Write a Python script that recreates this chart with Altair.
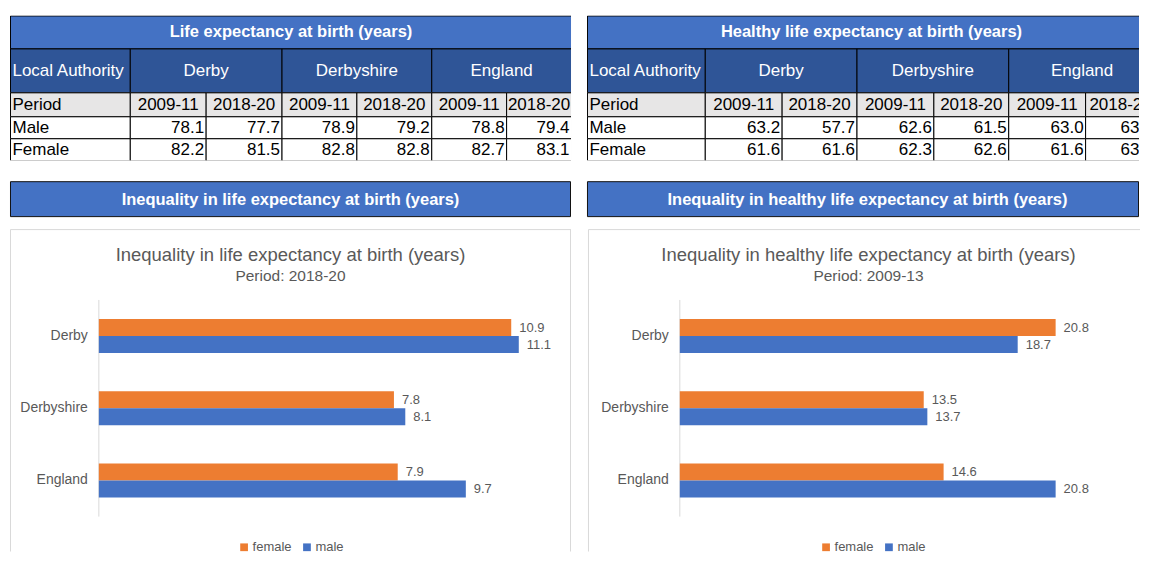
import altair as alt
import pandas as pd

# ---------------- data ----------------
areas = ["Derby", "Derbyshire", "England"]
periods = ["2009-11", "2018-20"]
row_labels = ["Male", "Female"]

le_male = [78.1, 77.7, 78.9, 79.2, 78.8, 79.4]
le_female = [82.2, 81.5, 82.8, 82.8, 82.7, 83.1]
hle_male = [63.2, 57.7, 62.6, 61.5, 63.0, 63.1]
hle_female = [61.6, 61.6, 62.3, 62.6, 61.6, 63.9]

ineq_le_female = [10.9, 7.8, 7.9]
ineq_le_male = [11.1, 8.1, 9.7]
ineq_hle_female = [20.8, 13.5, 14.6]
ineq_hle_male = [18.7, 13.7, 20.8]

table_titles = ["Life expectancy at birth (years)",
                "Healthy life expectancy at birth (years)"]
section_titles = ["Inequality in life expectancy at birth (years)",
                  "Inequality in healthy life expectancy at birth (years)"]
chart_periods = ["Period: 2018-20", "Period: 2009-13"]
sexes = ["female", "male"]

# ---------------- style ----------------
FONT = "Liberation Sans"
LIGHT_BLUE = "#4472C4"
DARK_BLUE = "#2F5597"
GREY_ROW = "#E7E6E6"
ORANGE = "#ED7D31"
TEXT_GREY = "#595959"
BOX_GREY = "#D9D9D9"

ROW_H = [33, 44, 24, 22, 22]
TABLE_H = sum(ROW_H)
HEADER_H = 36
CHART_H = 323


def table(title, male, female, col_w, width):
    xs = [0]
    for w in col_w:
        xs.append(xs[-1] + w)
    ys = [0]
    for h in ROW_H:
        ys.append(ys[-1] + h)
    cells = []

    def add(c0, c1, r, fill, text, align, color, weight="normal"):
        cells.append(dict(x0=xs[c0], x1=min(xs[c1], width), y0=ys[r], y1=ys[r + 1],
                          xr=xs[c1],
                          xc=(xs[c0] + xs[c1]) / 2, yc=(ys[r] + ys[r + 1]) / 2,
                          fill=fill, text=text, align=align, color=color,
                          weight=weight))

    add(0, 7, 0, LIGHT_BLUE, title, "center", "white", "bold")
    add(0, 1, 1, DARK_BLUE, "Local Authority", "left", "white")
    for i, a in enumerate(areas):
        add(1 + 2 * i, 3 + 2 * i, 1, DARK_BLUE, a, "center", "white")
    add(0, 1, 2, GREY_ROW, "Period", "left", "black")
    for j in range(6):
        add(1 + j, 2 + j, 2, GREY_ROW, periods[j % 2], "center", "black")
    for r, (lab, vals) in enumerate(zip(row_labels, [male, female])):
        add(0, 1, 3 + r, "white", lab, "left", "black")
        for j, v in enumerate(vals):
            add(1 + j, 2 + j, 3 + r, "white", f"{v:.1f}", "right", "black")
    df = pd.DataFrame(cells)

    X = alt.Scale(domain=[0, width], range=[0.5, width + 0.5])
    Y = alt.Scale(domain=[0, TABLE_H], range=[0.5, TABLE_H + 0.5])
    base = alt.Chart(df)
    rects = base.mark_rect(stroke="black", strokeWidth=1, clip=True).encode(
        x=alt.X("x0:Q", scale=X, axis=None), x2="x1:Q",
        y=alt.Y("y0:Q", scale=Y, axis=None), y2="y1:Q",
        fill=alt.Fill("fill:N", scale=None))
    left = base.transform_filter("datum.align == 'left'").mark_text(
        align="left", baseline="middle", dx=2, font=FONT, fontSize=17, clip=True
    ).encode(x=alt.X("x0:Q", scale=X, axis=None),
             y=alt.Y("yc:Q", scale=Y, axis=None),
             text="text:N", color=alt.Color("color:N", scale=None))
    center = base.transform_filter(
        "datum.align == 'center' && datum.weight == 'normal'").mark_text(
        align="center", baseline="middle", font=FONT, fontSize=17, clip=True
    ).encode(x=alt.X("xc:Q", scale=X, axis=None),
             y=alt.Y("yc:Q", scale=Y, axis=None),
             text="text:N", color=alt.Color("color:N", scale=None))
    bold = base.transform_filter("datum.weight == 'bold'").mark_text(
        align="center", baseline="middle", font=FONT, fontSize=16.5,
        fontWeight="bold", clip=True
    ).encode(x=alt.X("xc:Q", scale=X, axis=None),
             y=alt.Y("yc:Q", scale=Y, axis=None),
             text="text:N", color=alt.Color("color:N", scale=None))
    right = base.transform_filter("datum.align == 'right'").mark_text(
        align="right", baseline="middle", dx=-2, font=FONT, fontSize=17, clip=True
    ).encode(x=alt.X("xr:Q", scale=X, axis=None),
             y=alt.Y("yc:Q", scale=Y, axis=None),
             text="text:N", color=alt.Color("color:N", scale=None))
    return alt.layer(rects, left, center, bold, right).properties(
        width=width, height=TABLE_H)


def header(title, width):
    df = pd.DataFrame({"t": [title]})
    bar = alt.Chart(df).mark_rect(fill=LIGHT_BLUE, stroke="#111111",
                                  strokeWidth=1).encode(
        x=alt.value(0.5), x2=alt.value(width - 0.5),
        y=alt.value(0.5), y2=alt.value(HEADER_H - 0.5))
    txt = alt.Chart(df).mark_text(font=FONT, fontSize=16.5, fontWeight="bold",
                                  color="white", align="center",
                                  baseline="middle").encode(
        x=alt.value(281), y=alt.value(HEADER_H / 2 + 1), text="t:N")
    return alt.layer(bar, txt).properties(width=width, height=HEADER_H)


def bar_panel(title, subtitle, female, male, width, zero_px, px_per, xmax,
              legend_x, right_border):
    df = pd.DataFrame({"area": areas * 2,
                       "sex": [sexes[0]] * 3 + [sexes[1]] * 3,
                       "value": female + male})
    X = alt.Scale(domain=[0, xmax], range=[zero_px, zero_px + xmax * px_per])
    Y = alt.Scale(domain=areas, range=[71, 288], paddingInner=0.53,
                  paddingOuter=0.265)
    yoff = alt.YOffset("sex:N", sort=sexes,
                       scale=alt.Scale(paddingInner=0, paddingOuter=0))
    base = alt.Chart(df)
    bars = base.mark_bar().encode(
        x=alt.X("value:Q", scale=X, axis=None),
        y=alt.Y("area:N", scale=Y, axis=None, sort=areas),
        yOffset=yoff,
        color=alt.Color("sex:N",
                        scale=alt.Scale(domain=sexes, range=[ORANGE, LIGHT_BLUE]),
                        legend=alt.Legend(orient="none", legendX=legend_x,
                                          legendY=312, direction="horizontal",
                                          title=None, symbolType="square",
                                          symbolSize=60, symbolStrokeWidth=0,
                                          labelFontSize=13, labelFont=FONT,
                                          labelColor=TEXT_GREY, labelOffset=2,
                                          columnPadding=8)))
    vals = base.mark_text(align="left", baseline="middle", dx=8, font=FONT,
                          fontSize=13, color=TEXT_GREY).encode(
        x=alt.X("value:Q", scale=X, axis=None),
        y=alt.Y("area:N", scale=Y, axis=None, sort=areas),
        yOffset=yoff,
        text=alt.Text("value:Q", format=".1f"))
    cats = alt.Chart(pd.DataFrame({"area": areas})).mark_text(
        align="right", baseline="middle", dx=-11, font=FONT, fontSize=14,
        color=TEXT_GREY).encode(
        x=alt.X(datum=0, scale=X, axis=None),
        y=alt.Y("area:N", scale=Y, axis=None, sort=areas),
        text="area:N")
    axis_line = alt.Chart(pd.DataFrame({"v": [0]})).mark_rule(
        color=BOX_GREY, strokeWidth=1).encode(
        x=alt.X("v:Q", scale=X, axis=None), y=alt.value(71), y2=alt.value(288))
    tdf = pd.DataFrame({"t": [title]})
    sdf = pd.DataFrame({"t": [subtitle]})
    ttl = alt.Chart(tdf).mark_text(font=FONT, fontSize=18.5, color=TEXT_GREY,
                                   align="center", baseline="middle").encode(
        x=alt.value(281), y=alt.value(26), text="t:N")
    sub = alt.Chart(sdf).mark_text(font=FONT, fontSize=15.5, color=TEXT_GREY,
                                   align="center", baseline="middle").encode(
        x=alt.value(281), y=alt.value(47), text="t:N")
    fdf = pd.DataFrame({"k": [0]})
    top = alt.Chart(fdf).mark_rule(color=BOX_GREY).encode(
        x=alt.value(0.5), x2=alt.value(width), y=alt.value(0.5))
    lft = alt.Chart(fdf).mark_rule(color=BOX_GREY).encode(
        x=alt.value(0.5), y=alt.value(0.5), y2=alt.value(CHART_H))
    layers = [top, lft]
    if right_border:
        rgt = alt.Chart(fdf).mark_rule(color=BOX_GREY).encode(
            x=alt.value(width - 0.5), y=alt.value(0.5), y2=alt.value(CHART_H))
        layers.append(rgt)
    layers += [ttl, sub, axis_line, bars, vals, cats]
    return alt.layer(*layers).properties(width=width, height=CHART_H)


W_L = 562
W_R = 553

t1 = table(table_titles[0], le_male, le_female, [120, 76, 76, 75, 75, 75, 65], W_L)
t2 = table(table_titles[1], hle_male, hle_female, [118, 77, 75, 77, 75, 77, 70], W_R)
h1 = header(section_titles[0], W_L)
h2 = header(section_titles[1], W_R)
c1 = bar_panel(section_titles[0], chart_periods[0], ineq_le_female,
               ineq_le_male, W_L, 89, 37.9, 12, 228, True)
c2 = bar_panel(section_titles[1], chart_periods[1], ineq_hle_female,
               ineq_hle_male, W_R, 92, 18.1, 24, 232, False)

row1 = alt.hconcat(t1, t2, spacing=16)
row2 = alt.hconcat(h1, h2, spacing=16)
row3 = alt.hconcat(c1, c2, spacing=16).resolve_scale(
    color="independent", x="independent", y="independent").resolve_legend(
    color="independent")

top_part = alt.vconcat(row1, row2, spacing=21)
chart = alt.vconcat(top_part, row3, spacing=12).properties(
    padding={"left": 2, "top": 7, "right": 0, "bottom": 0}
).configure(font=FONT).configure_view(stroke=None, strokeWidth=0)

chart.save("out.html", embed_options={"renderer": "svg", "actions": False})
